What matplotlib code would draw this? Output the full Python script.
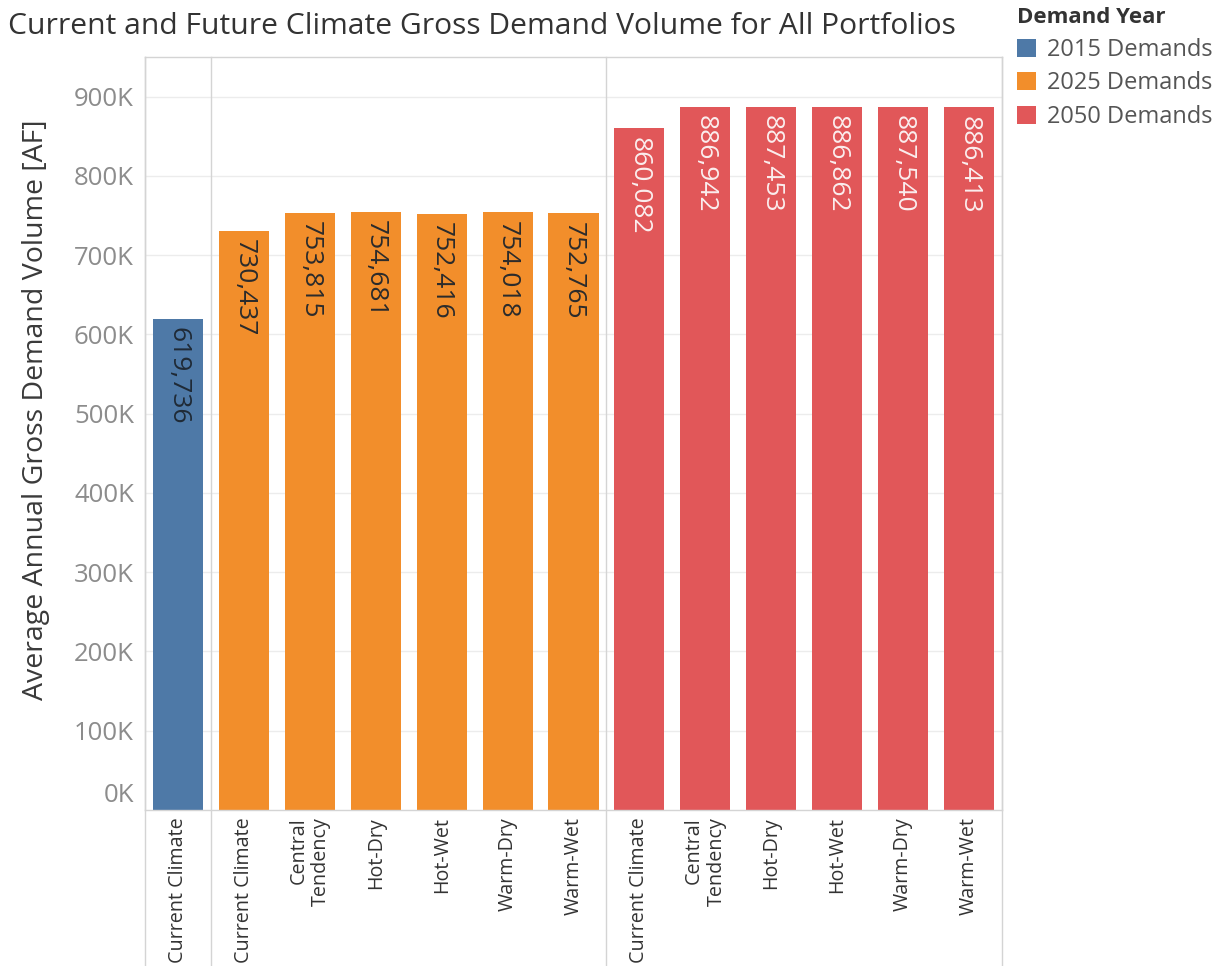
import matplotlib
matplotlib.use("Agg")
import matplotlib.pyplot as plt
import matplotlib.transforms as mtransforms
from matplotlib.patches import Patch

plt.rcParams["font.family"] = ["Open Sans", "DejaVu Sans"]

# Climate scenario labels, one per bar, grouped by demand year
SCENARIOS = [
    "Current Climate",
    "Current Climate", "Central\nTendency", "Hot-Dry", "Hot-Wet", "Warm-Dry", "Warm-Wet",
    "Current Climate", "Central\nTendency", "Hot-Dry", "Hot-Wet", "Warm-Dry", "Warm-Wet",
]
DEMAND_YEAR = ["2015"] + ["2025"] * 6 + ["2050"] * 6
VOLUME_AF = [
    619736,
    730437, 753815, 754681, 752416, 754018, 752765,
    860082, 886942, 887453, 886862, 887540, 886413,
]
YEARS = ["2015", "2025", "2050"]
YEAR_LABELS = ["2015 Demands", "2025 Demands", "2050 Demands"]

COLORS = {"2015": "#4e79a7", "2025": "#f28e2b", "2050": "#e15759"}
LABEL_COLORS = {"2015": "#1f2a36", "2025": "#2b2b2b", "2050": "#fbeeee"}
GRID = "#ececec"
BORDER = "#d4d4d4"


def main():
    fig = plt.figure(figsize=(12.2, 9.66), dpi=100)
    ax = fig.add_axes([145 / 1220, 1 - 810 / 966, 857 / 1220, 753 / 966])

    x = list(range(len(VOLUME_AF)))
    colors = [COLORS[y] for y in DEMAND_YEAR]
    bars = ax.bar(x, VOLUME_AF, width=0.76, color=colors, zorder=2)

    ax.set_xlim(-0.5, len(x) - 0.5)
    ax.set_ylim(0, 950000)

    # value labels inside the bars, rotated downwards
    for b, v, yr in zip(bars, VOLUME_AF, DEMAND_YEAR):
        ax.annotate(f"{v:,}", xy=(b.get_x() + b.get_width() / 2, v),
                    xytext=(0, -6), textcoords="offset points",
                    rotation=-90, ha="center", va="top",
                    fontsize=19, color=LABEL_COLORS[yr], zorder=3)

    # y axis
    ticks = list(range(0, 900001, 100000))
    ax.set_yticks(ticks)
    ax.set_yticklabels([f"{t // 1000}K" for t in ticks], fontsize=18.5, color="#8c8c8c")
    ax.tick_params(axis="y", length=0, pad=8)
    zero_lbl = ax.get_yticklabels()[0]
    zero_lbl.set_transform(zero_lbl.get_transform()
                           + mtransforms.ScaledTranslation(0, 17 / 100, fig.dpi_scale_trans))
    for t in ticks[1:]:
        ax.axhline(t, color=GRID, linewidth=1, zorder=1)

    ax.set_ylabel("Average Annual Gross Demand Volume [AF]", fontsize=20.5,
                  color="#3a3a3a")
    ax.yaxis.set_label_coords(-0.111, 0.531)

    # x axis: scenario names rotated upwards
    ax.set_xticks(x)
    ax.set_xticklabels(SCENARIOS, rotation=90, ha="center", va="top",
                       multialignment="right", fontsize=14.2, color="#333333")
    ax.tick_params(axis="x", length=0, pad=5)

    for s in ax.spines.values():
        s.set_color(BORDER)
        s.set_linewidth(1)

    # pane borders, carried down through the header area
    trans = mtransforms.blended_transform_factory(ax.transData, ax.transAxes)
    for xb in [-0.5, 0.5, 6.5, len(x) - 0.5]:
        ax.plot([xb, xb], [-0.21, 1], transform=trans, color=BORDER,
                linewidth=1, clip_on=False, zorder=4)

    fig.text(8 / 1220, 1 - 27 / 966,
             "Current and Future Climate Gross Demand Volume for All Portfolios",
             fontsize=21.6, color="#333333", va="center", ha="left")

    handles = [Patch(facecolor=COLORS[y], edgecolor="none") for y in YEARS]
    leg = fig.legend(handles, YEAR_LABELS, loc="upper left",
                     bbox_to_anchor=(1008 / 1220, 1 + 2 / 966),
                     frameon=False, fontsize=17, title="Demand Year",
                     title_fontproperties={"weight": "bold", "size": 16},
                     alignment="left", handlelength=0.8, handleheight=0.8,
                     handletextpad=0.45, labelspacing=0.4, borderaxespad=0)
    for t in leg.get_texts():
        t.set_color("#555555")
    leg.get_title().set_color("#333333")

    fig.savefig("out.png", dpi=100)


if __name__ == "__main__":
    main()
